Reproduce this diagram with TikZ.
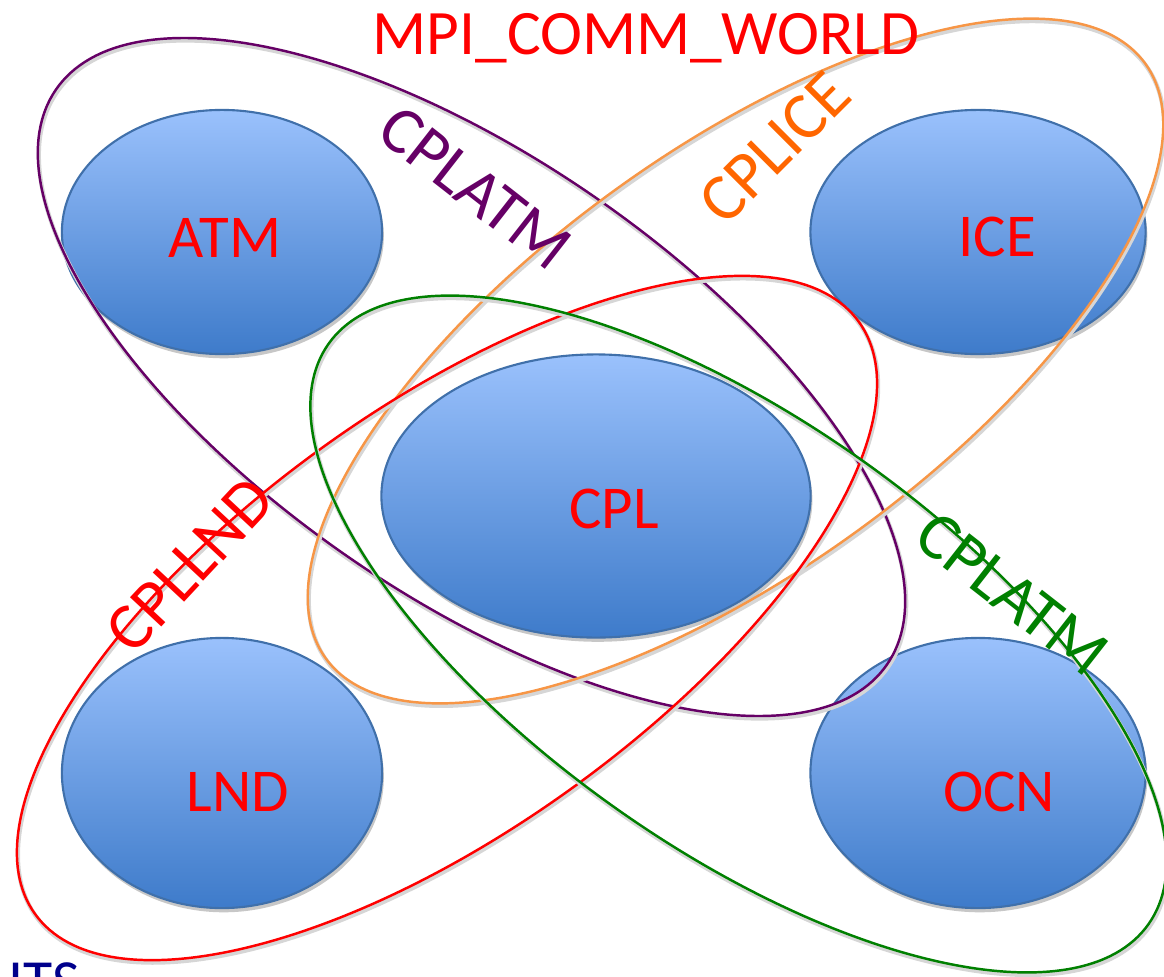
\documentclass[tikz,border=0pt]{standalone}
\usepackage{fontspec}
\setmainfont{Carlito}
\usetikzlibrary{shapes.geometric,shadows}

\definecolor{compTop}{RGB}{154,193,252}
\definecolor{compBot}{RGB}{62,123,202}
\definecolor{compEdge}{RGB}{64,112,170}
\definecolor{ringPurple}{RGB}{102,0,102}
\definecolor{ringOrange}{RGB}{247,150,70}
\definecolor{ringRed}{RGB}{255,0,0}
\definecolor{ringGreen}{RGB}{0,128,0}
\definecolor{txtOrange}{RGB}{255,102,0}
\definecolor{txtNavy}{RGB}{0,0,140}

% one communicator ring: soft grey shadow first, then the coloured outline
\newcommand\drawring[6]{%
  \draw[ringshade, shift={(1,2.5)}, rotate around={#6:(#2,#3)}]
    (#2,#3) ellipse (#4cm and #5cm);
  \draw[draw=#1, line width=0.7pt, rotate around={#6:(#2,#3)}]
    (#2,#3) ellipse (#4cm and #5cm);
}

\begin{document}
\begin{tikzpicture}[x=0.01cm, y=-0.01cm,
  comp/.style={ellipse, draw=compEdge, line width=0.6pt, inner sep=0pt,
    top color=compTop, bottom color=compBot,
    drop shadow={shadow xshift=0.5pt, shadow yshift=-1.2pt, opacity=0.22, fill=black}},
  comptext/.style={text=red, inner sep=0pt, font=\fontsize{17.3}{20}\selectfont},
  ringshade/.style={draw=black!16, line width=1.2pt},
  lbl/.style={inner sep=0pt, font=\fontsize{19}{22}\selectfont}]

\useasboundingbox (0,0) rectangle (1164,976);

% component ellipses
\node[comp, minimum width=3.20cm, minimum height=2.44cm] (atm) at (222,232) {};
\node[comp, minimum width=3.35cm, minimum height=2.44cm] (ice) at (978,232) {};
\node[comp, minimum width=4.29cm, minimum height=2.83cm] (cpl) at (596,496) {};
\node[comp, minimum width=3.20cm, minimum height=2.70cm] (lnd) at (222,773) {};
\node[comp, minimum width=3.35cm, minimum height=2.70cm] (ocn) at (978,773) {};

\node[comptext] (atmT) at (225,238) {ATM};
\node[comptext] (iceT) at (997,237) {ICE};
\node[comptext] (cplT) at (614,509) {CPL};
\node[comptext] (lndT) at (238,792) {LND};
\node[comptext] (ocnT) at (999,792) {OCN};

% communicator rings
\drawring{ringPurple}{471.5}{377}{5.05}{2.18}{-34.7}
\drawring{ringOrange}{735.5}{361}{5.06}{2.09}{36}
\drawring{ringRed}{447}{618}{5.07}{2.11}{35.7}
\drawring{ringGreen}{738.5}{634}{5.02}{2.13}{-35.3}

% ring labels
\node[lbl, text=ringPurple, rotate=-38] (lblAtm) at (475,188) {CPLATM};
\node[lbl, text=txtOrange, rotate=45] (lblIce) at (775,148) {CPLICE};
\node[lbl, text=ringRed, rotate=47] (lblLnd) at (190,565) {CPLLND};
\node[lbl, text=ringGreen, rotate=-38] (lblOcn) at (1012,594) {CPLATM};

\node[anchor=base, inner sep=0pt, text=red, font=\fontsize{18}{22}\selectfont]
  (world) at (646,55) {MPI\_COMM\_WORLD};

\node[anchor=north west, inner sep=0pt, text=txtNavy, font=\fontsize{17}{20}\selectfont]
  (its) at (8,962) {ITS};
\end{tikzpicture}
\end{document}
